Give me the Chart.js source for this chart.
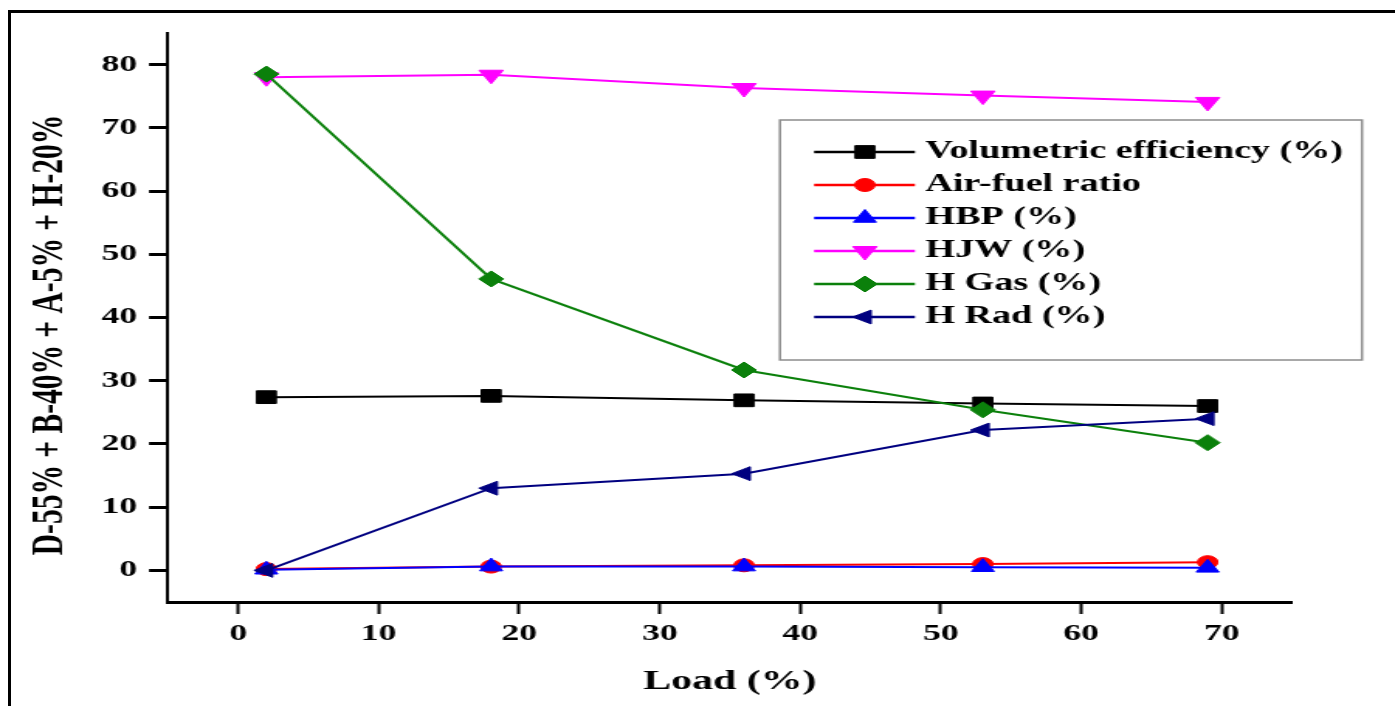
<!DOCTYPE html>
<html>
<head>
<meta charset="utf-8">
<title>Load (%)</title>
<script src="https://cdn.jsdelivr.net/npm/chart.js@4.4.0/dist/chart.umd.min.js"></script>
<style>
  html, body { margin: 0; padding: 0; background: #fff; overflow: hidden; }
  /* outer frame, left and top edges only */
  #frame { position: absolute; left: 8px; top: 10px; width: 1500px; height: 800px;
           border-left: 3px solid #000; border-top: 3px solid #000; }
  /* the figure is drawn narrow and stretched sideways */
  #wrap { position: absolute; left: 0; top: 0; width: 900px; height: 706px;
          transform: scaleX(1.55); transform-origin: 0 0; }
</style>
</head>
<body>
<div id="frame"></div>
<div id="wrap"><canvas id="chart" width="900" height="706"></canvas></div>
<script>
// Load points and measured series
const loads = [2, 18, 36, 53, 69];
const volEff = [27.4, 27.6, 26.9, 26.4, 26.0];
const airFuel = [0.2, 0.6, 0.8, 1.0, 1.3];
const hbp = [0.1, 0.6, 0.6, 0.5, 0.4];
const hjw = [78.0, 78.4, 76.3, 75.1, 74.1];
const hGas = [78.5, 46.1, 31.7, 25.4, 20.2];
const hRad = [0.0, 13.0, 15.3, 22.2, 24.0];

const xTicks = [0, 10, 20, 30, 40, 50, 60, 70];
const yTicks = [0, 10, 20, 30, 40, 50, 60, 70, 80];

const xTitle = 'Load (%)';
const yTitle = 'D-55% + B-40% + A-5% + H-20%';

const serif = '"Liberation Serif", "Times New Roman", serif';

let seriesCount = 0;
function series(label, values, color, style, radius, rotation) {
  seriesCount++;
  return {
    label: label,
    data: loads.map((x, i) => ({ x: x, y: values[i] })),
    borderColor: color,
    backgroundColor: color,
    pointBackgroundColor: color,
    pointBorderColor: color,
    pointStyle: style,
    pointRadius: radius,
    pointRotation: rotation,
    pointBorderWidth: 1,
    borderWidth: 2,
    tension: 0,
    order: 10 - seriesCount // later series sit on top
  };
}

const datasets = [
  series('Volumetric efficiency (%)', volEff, '#000000', 'rect', 9, 0),
  series('Air-fuel ratio', airFuel, '#ff0000', 'circle', 6.5, 0),
  series('HBP (%)', hbp, '#0000ff', 'triangle', 8.5, 0),
  series('HJW (%)', hjw, '#ff00ff', 'triangle', 9, 180),
  series('H Gas (%)', hGas, '#0b800b', 'rectRot', 8, 0),
  series('H Rad (%)', hRad, '#000080', 'triangle', 8, 270)
];

// rotated y title
const yTitlePlugin = {
  id: 'yTitle',
  afterDraw(chart) {
    const ctx = chart.ctx;
    ctx.save();
    ctx.translate(32.3, 335);
    ctx.rotate(-Math.PI / 2);
    ctx.font = 'bold 29.5px ' + serif;
    ctx.fillStyle = '#000';
    ctx.textAlign = 'center';
    ctx.textBaseline = 'middle';
    ctx.fillText(yTitle, 0, 0);
    ctx.restore();
  }
};

// boxed legend with line + marker samples
const boxLegend = {
  id: 'boxLegend',
  afterDraw(chart) {
    const ctx = chart.ctx;
    ctx.save();
    ctx.strokeStyle = '#8c8c8c';
    ctx.lineWidth = 1.5;
    ctx.strokeRect(503.2, 120, 375.5, 240);
    chart.data.datasets.forEach((ds, i) => {
      const y = 152 + i * 33;
      ctx.strokeStyle = ds.borderColor;
      ctx.lineWidth = 2.5;
      ctx.beginPath();
      ctx.moveTo(525.2, y);
      ctx.lineTo(590.3, y);
      ctx.stroke();
      ctx.fillStyle = ds.pointBackgroundColor;
      ctx.lineWidth = 1;
      Chart.helpers.drawPoint(ctx, {
        pointStyle: ds.pointStyle,
        radius: ds.pointRadius,
        rotation: ds.pointRotation,
        borderWidth: 1
      }, 558, y);
      ctx.fillStyle = '#000';
      ctx.font = 'bold 24.6px ' + serif;
      ctx.textAlign = 'left';
      ctx.textBaseline = 'middle';
      ctx.fillText(ds.label, 597, y);
    });
    ctx.restore();
  }
};

const tickFont = { family: serif, size: 23, weight: 'bold' };

new Chart(document.getElementById('chart'), {
  type: 'line',
  data: { datasets: datasets },
  options: {
    responsive: false,
    animation: false,
    devicePixelRatio: 1,
    layout: { padding: { left: 0, right: 66.5, top: 33, bottom: 0 } },
    plugins: {
      legend: { display: false },
      tooltip: { enabled: false }
    },
    scales: {
      x: {
        type: 'linear',
        min: -5,
        max: 75,
        afterBuildTicks: s => { s.ticks = xTicks.map(v => ({ value: v })); },
        afterFit: s => { s.height = 104; },
        border: { display: true, color: '#000', width: 3 },
        grid: { drawOnChartArea: false, drawTicks: true, tickLength: 12, tickWidth: 2, color: '#000', tickColor: '#000' },
        ticks: { color: '#000', font: tickFont, padding: 6, autoSkip: false, maxRotation: 0 },
        title: {
          display: true,
          text: xTitle,
          color: '#000',
          font: { family: serif, size: 27, weight: 'bold' },
          padding: { top: 0, bottom: 8 }
        }
      },
      y: {
        type: 'linear',
        min: -5,
        max: 85,
        afterBuildTicks: s => { s.ticks = yTicks.map(v => ({ value: v })); },
        afterFit: s => { s.width = 108.4; },
        border: { display: true, color: '#000', width: 2 },
        grid: { drawOnChartArea: false, drawTicks: true, tickLength: 12.3, tickWidth: 3, color: '#000', tickColor: '#000' },
        ticks: { color: '#000', font: tickFont, padding: 7.7, autoSkip: false }
      }
    }
  },
  plugins: [yTitlePlugin, boxLegend]
});
</script>
</body>
</html>
